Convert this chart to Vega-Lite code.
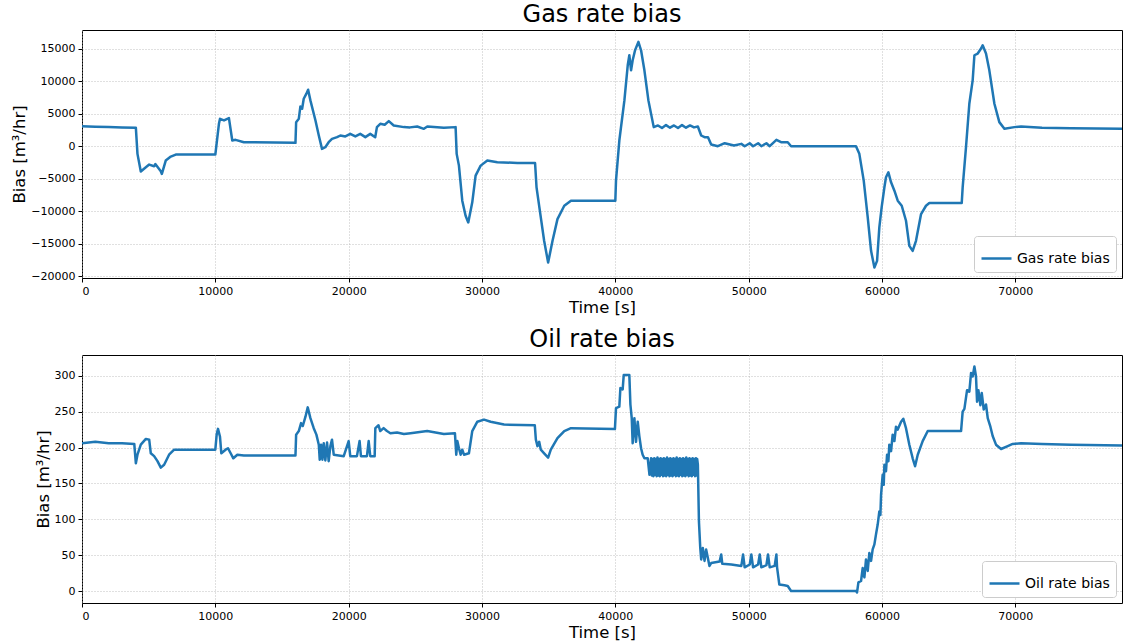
{
  "$schema": "https://vega.github.io/schema/vega-lite/v6.json",
  "padding": {"left": 11, "top": 2, "right": 0, "bottom": 0},
  "config": {
    "font": "DejaVu Sans",
    "view": {"stroke": "black", "strokeWidth": 1},
    "axis": {"domain": false, "grid": true, "gridColor": "#b0b0b0", "gridDash": [1, 2], "gridWidth": 0.8, "tickColor": "black", "tickSize": 4, "labelFontSize": 11, "labelColor": "black", "labelPadding": 3, "titleFontSize": 16.5, "titleFontWeight": "normal", "titleColor": "black", "titlePadding": 3},
    "title": {"fontSize": 24, "fontWeight": "normal", "color": "black", "offset": 3},
    "legend": {"orient": "bottom-right", "offset": 6, "fillColor": "white", "strokeColor": "#cccccc", "cornerRadius": 3, "padding": 6, "labelFontSize": 14, "labelColor": "black", "labelFont": "DejaVu Sans", "symbolType": "stroke", "symbolSize": 900, "symbolStrokeWidth": 2.5, "title": null}
  },
  "datasets": {
    "gas": [
      {"t":0,"v":3090},{"t":1000,"v":3000},{"t":2000,"v":2950},{"t":3000,"v":2900},{"t":4040,"v":2830},{"t":4160,"v":-1180},{"t":4410,"v":-3900},{"t":4790,"v":-3240},{"t":5040,"v":-2830},{"t":5410,"v":-3090},{"t":5500,"v":-2750},{"t":5910,"v":-3860},{"t":5990,"v":-4270},{"t":6280,"v":-2210},{"t":6660,"v":-1600},{"t":7030,"v":-1290},{"t":10000,"v":-1290},{"t":10270,"v":3450},{"t":10350,"v":4220},{"t":10650,"v":3970},{"t":11020,"v":4330},{"t":11270,"v":875},{"t":11520,"v":980},{"t":12140,"v":620},{"t":16010,"v":515},{"t":16060,"v":3700},{"t":16260,"v":4220},{"t":16380,"v":6130},{"t":16510,"v":5770},{"t":16630,"v":7310},{"t":16830,"v":8090},{"t":16960,"v":8700},{"t":17130,"v":7060},{"t":17510,"v":3970},{"t":17760,"v":1650},{"t":18000,"v":-410},{"t":18250,"v":-150},{"t":18500,"v":620},{"t":18750,"v":1130},{"t":19130,"v":1390},{"t":19380,"v":1650},{"t":19750,"v":1500},{"t":20120,"v":1900},{"t":20500,"v":1500},{"t":20870,"v":1900},{"t":21250,"v":1400},{"t":21620,"v":1900},{"t":21990,"v":1390},{"t":22120,"v":2940},{"t":22370,"v":3450},{"t":22700,"v":3300},{"t":23010,"v":3860},{"t":23380,"v":3190},{"t":24140,"v":2940},{"t":24600,"v":2900},{"t":25140,"v":3040},{"t":25640,"v":2680},{"t":25900,"v":3040},{"t":27140,"v":2830},{"t":28020,"v":2940},{"t":28100,"v":-1180},{"t":28270,"v":-2990},{"t":28520,"v":-8390},{"t":28770,"v":-10710},{"t":28970,"v":-11740},{"t":29270,"v":-8650},{"t":29520,"v":-4530},{"t":29900,"v":-2990},{"t":30400,"v":-2210},{"t":31150,"v":-2470},{"t":32660,"v":-2580},{"t":33980,"v":-2580},{"t":34090,"v":-6330},{"t":34410,"v":-10970},{"t":34660,"v":-14570},{"t":34960,"v":-17920},{"t":35290,"v":-14570},{"t":35660,"v":-11230},{"t":36170,"v":-9170},{"t":36670,"v":-8390},{"t":40000,"v":-8390},{"t":40050,"v":-5300},{"t":40300,"v":875},{"t":40680,"v":7060},{"t":40930,"v":12460},{"t":41050,"v":14010},{"t":41180,"v":11690},{"t":41300,"v":13240},{"t":41480,"v":14780},{"t":41730,"v":16070},{"t":41930,"v":14780},{"t":42180,"v":11690},{"t":42480,"v":7060},{"t":42880,"v":2940},{"t":43200,"v":3200},{"t":43500,"v":2800},{"t":43800,"v":3250},{"t":44100,"v":2850},{"t":44400,"v":3200},{"t":44700,"v":2800},{"t":45000,"v":3250},{"t":45300,"v":2850},{"t":45600,"v":3200},{"t":45900,"v":2900},{"t":46190,"v":3040},{"t":46440,"v":1650},{"t":46690,"v":1390},{"t":46950,"v":1390},{"t":47190,"v":260},{"t":47690,"v":0},{"t":48200,"v":460},{"t":48900,"v":100},{"t":49450,"v":360},{"t":49700,"v":0},{"t":50080,"v":460},{"t":50330,"v":0},{"t":50710,"v":460},{"t":50950,"v":0},{"t":51330,"v":460},{"t":51580,"v":0},{"t":52080,"v":980},{"t":52430,"v":620},{"t":52930,"v":620},{"t":53180,"v":0},{"t":58050,"v":0},{"t":58300,"v":-1180},{"t":58630,"v":-5300},{"t":58930,"v":-10970},{"t":59180,"v":-16120},{"t":59430,"v":-18690},{"t":59630,"v":-17660},{"t":59800,"v":-12510},{"t":59980,"v":-9320},{"t":60180,"v":-6330},{"t":60300,"v":-4790},{"t":60480,"v":-4020},{"t":60680,"v":-5560},{"t":60930,"v":-6850},{"t":61180,"v":-8390},{"t":61480,"v":-9170},{"t":61800,"v":-11480},{"t":62050,"v":-15350},{"t":62300,"v":-16120},{"t":62550,"v":-14570},{"t":62930,"v":-10450},{"t":63300,"v":-9170},{"t":63550,"v":-8750},{"t":65980,"v":-8750},{"t":66050,"v":-6330},{"t":66300,"v":-150},{"t":66550,"v":6540},{"t":66800,"v":10150},{"t":66930,"v":14010},{"t":67180,"v":14270},{"t":67430,"v":15040},{"t":67550,"v":15550},{"t":67800,"v":14270},{"t":68050,"v":11690},{"t":68430,"v":6540},{"t":68800,"v":3710},{"t":69180,"v":2680},{"t":69930,"v":2940},{"t":70430,"v":3040},{"t":72000,"v":2850},{"t":74180,"v":2780},{"t":78000,"v":2680}
    ],
    "oil": [
      {"t":0,"v":206},{"t":1000,"v":208},{"t":2000,"v":206},{"t":3000,"v":206},{"t":3920,"v":205},{"t":4040,"v":178},{"t":4160,"v":190},{"t":4410,"v":204},{"t":4790,"v":212},{"t":5040,"v":211},{"t":5160,"v":192},{"t":5410,"v":188},{"t":5660,"v":181},{"t":5910,"v":172},{"t":6160,"v":176},{"t":6530,"v":190},{"t":6910,"v":197},{"t":10000,"v":197},{"t":10100,"v":218},{"t":10200,"v":226},{"t":10350,"v":215},{"t":10450,"v":192},{"t":10770,"v":197},{"t":10950,"v":199},{"t":11150,"v":192},{"t":11350,"v":185},{"t":11650,"v":190},{"t":12140,"v":189},{"t":16010,"v":189},{"t":16060,"v":218},{"t":16260,"v":223},{"t":16430,"v":234},{"t":16560,"v":230},{"t":16760,"v":243},{"t":16930,"v":256},{"t":17130,"v":241},{"t":17380,"v":227},{"t":17580,"v":218},{"t":17760,"v":204},{"t":17830,"v":183},{"t":17930,"v":204},{"t":18030,"v":183},{"t":18130,"v":206},{"t":18250,"v":182},{"t":18380,"v":207},{"t":18500,"v":181},{"t":18630,"v":202},{"t":18750,"v":211},{"t":18880,"v":190},{"t":19630,"v":188},{"t":20000,"v":209},{"t":20120,"v":188},{"t":20620,"v":188},{"t":20820,"v":209},{"t":20920,"v":188},{"t":21370,"v":188},{"t":21500,"v":209},{"t":21620,"v":188},{"t":21950,"v":188},{"t":22000,"v":227},{"t":22240,"v":231},{"t":22370,"v":223},{"t":22620,"v":227},{"t":22870,"v":223},{"t":23130,"v":220},{"t":23630,"v":221},{"t":24140,"v":219},{"t":24640,"v":220},{"t":25890,"v":223},{"t":27140,"v":219},{"t":27970,"v":220},{"t":28070,"v":190},{"t":28150,"v":209},{"t":28270,"v":199},{"t":28400,"v":190},{"t":28520,"v":197},{"t":28650,"v":190},{"t":29020,"v":192},{"t":29270,"v":223},{"t":29650,"v":236},{"t":30150,"v":239},{"t":30650,"v":236},{"t":31650,"v":232},{"t":33960,"v":231},{"t":34040,"v":211},{"t":34160,"v":202},{"t":34290,"v":208},{"t":34410,"v":197},{"t":34660,"v":192},{"t":34960,"v":186},{"t":35160,"v":197},{"t":35660,"v":213},{"t":36170,"v":223},{"t":36670,"v":227},{"t":39970,"v":226},{"t":40050,"v":255},{"t":40300,"v":257},{"t":40380,"v":283},{"t":40550,"v":281},{"t":40630,"v":301},{"t":41050,"v":301},{"t":41130,"v":260},{"t":41230,"v":241},{"t":41300,"v":206},{"t":41430,"v":241},{"t":41550,"v":208},{"t":41680,"v":236},{"t":41800,"v":216},{"t":41930,"v":199},{"t":42050,"v":190},{"t":42180,"v":185},{"t":42430,"v":185},{"t":42560,"v":162},{"t":42680,"v":185},
      {"t":42740,"v":161},{"t":42800,"v":184},{"t":42860,"v":160},{"t":42920,"v":185},{"t":42980,"v":162},{"t":43040,"v":184},{"t":43100,"v":160},{"t":43160,"v":186},{"t":43220,"v":161},{"t":43280,"v":184},{"t":43340,"v":160},{"t":43400,"v":185},{"t":43460,"v":162},{"t":43520,"v":184},{"t":43580,"v":160},{"t":43640,"v":185},{"t":43700,"v":161},{"t":43760,"v":184},{"t":43820,"v":160},{"t":43880,"v":186},{"t":43940,"v":162},{"t":44000,"v":184},{"t":44060,"v":160},{"t":44120,"v":185},{"t":44180,"v":161},{"t":44240,"v":184},{"t":44300,"v":160},{"t":44360,"v":185},{"t":44420,"v":162},{"t":44480,"v":184},{"t":44540,"v":160},{"t":44600,"v":186},{"t":44660,"v":161},{"t":44720,"v":184},{"t":44780,"v":160},{"t":44840,"v":185},{"t":44900,"v":162},{"t":44960,"v":184},{"t":45020,"v":160},{"t":45080,"v":185},{"t":45140,"v":161},{"t":45200,"v":184},{"t":45260,"v":160},{"t":45320,"v":186},{"t":45380,"v":162},{"t":45440,"v":184},{"t":45500,"v":160},{"t":45560,"v":185},{"t":45620,"v":161},{"t":45680,"v":184},{"t":45740,"v":160},{"t":45800,"v":185},{"t":45860,"v":162},{"t":45920,"v":184},{"t":45980,"v":160},{"t":46040,"v":185},{"t":46100,"v":161},{"t":46140,"v":184},
      {"t":46190,"v":176},{"t":46270,"v":97},{"t":46370,"v":60},{"t":46440,"v":44},{"t":46560,"v":60},{"t":46690,"v":42},{"t":46810,"v":58},{"t":46940,"v":46},{"t":47060,"v":35},{"t":47190,"v":39},{"t":47820,"v":41},{"t":47940,"v":51},{"t":48020,"v":38},{"t":48700,"v":37},{"t":49450,"v":35},{"t":49580,"v":51},{"t":49700,"v":33},{"t":50080,"v":37},{"t":50200,"v":51},{"t":50330,"v":33},{"t":50710,"v":37},{"t":50830,"v":51},{"t":50950,"v":33},{"t":51330,"v":36},{"t":51450,"v":51},{"t":51580,"v":33},{"t":51950,"v":35},{"t":52080,"v":51},{"t":52130,"v":33},{"t":52300,"v":9},{"t":52680,"v":8},{"t":52930,"v":7},{"t":53180,"v":0},{"t":58050,"v":0},{"t":58130,"v":-2},{"t":58230,"v":12},{"t":58430,"v":14},{"t":58550,"v":32},{"t":58680,"v":19},{"t":58800,"v":44},{"t":58930,"v":28},{"t":59050,"v":53},{"t":59180,"v":42},{"t":59300,"v":58},{"t":59430,"v":65},{"t":59550,"v":79},{"t":59680,"v":93},{"t":59800,"v":111},{"t":59880,"v":106},{"t":59930,"v":134},{"t":60050,"v":162},{"t":60130,"v":148},{"t":60180,"v":176},{"t":60300,"v":167},{"t":60380,"v":190},{"t":60480,"v":181},{"t":60550,"v":204},{"t":60680,"v":195},{"t":60800,"v":218},{"t":60930,"v":209},{"t":61050,"v":229},{"t":61180,"v":225},{"t":61430,"v":236},{"t":61600,"v":240},{"t":61800,"v":227},{"t":62050,"v":204},{"t":62300,"v":185},{"t":62480,"v":174},{"t":62680,"v":190},{"t":63050,"v":209},{"t":63430,"v":223},{"t":65930,"v":223},{"t":66050,"v":250},{"t":66180,"v":254},{"t":66380,"v":280},{"t":66550,"v":278},{"t":66680,"v":304},{"t":66800,"v":299},{"t":66930,"v":313},{"t":67050,"v":299},{"t":67130,"v":264},{"t":67230,"v":280},{"t":67380,"v":259},{"t":67480,"v":276},{"t":67630,"v":253},{"t":67800,"v":260},{"t":67930,"v":241},{"t":68130,"v":229},{"t":68300,"v":216},{"t":68550,"v":204},{"t":68930,"v":198},{"t":69430,"v":202},{"t":69800,"v":205},{"t":70430,"v":206},{"t":72000,"v":205},{"t":74180,"v":204},{"t":78000,"v":203}
    ]
  },
  "spacing": 11,
  "resolve": {"scale": {"color": "independent"}, "legend": {"color": "independent"}},
  "vconcat": [
    {
      "title": "Gas rate bias",
      "width": 1040,
      "height": 248,
      "data": {"name": "gas"},
      "mark": {"type": "line", "strokeWidth": 2.5, "clip": true, "strokeJoin": "round"},
      "encoding": {
        "x": {"field": "t", "type": "quantitative", "scale": {"domain": [0, 78000], "nice": false, "zero": false}, "axis": {"values": [0, 10000, 20000, 30000, 40000, 50000, 60000, 70000], "format": "d", "title": "Time [s]"}},
        "y": {"field": "v", "type": "quantitative", "scale": {"domain": [-20300, 17900], "nice": false, "zero": false}, "axis": {"values": [-20000, -15000, -10000, -5000, 0, 5000, 10000, 15000], "format": "d", "title": "Bias [m³/hr]"}},
        "color": {"datum": "Gas rate bias", "type": "nominal", "scale": {"range": ["#1f77b4"]}}
      }
    },
    {
      "title": "Oil rate bias",
      "width": 1040,
      "height": 248,
      "data": {"name": "oil"},
      "mark": {"type": "line", "strokeWidth": 2.5, "clip": true, "strokeJoin": "round"},
      "encoding": {
        "x": {"field": "t", "type": "quantitative", "scale": {"domain": [0, 78000], "nice": false, "zero": false}, "axis": {"values": [0, 10000, 20000, 30000, 40000, 50000, 60000, 70000], "format": "d", "title": "Time [s]"}},
        "y": {"field": "v", "type": "quantitative", "scale": {"domain": [-16.7, 329], "nice": false, "zero": false}, "axis": {"values": [0, 50, 100, 150, 200, 250, 300], "format": "d", "title": "Bias [m³/hr]"}},
        "color": {"datum": "Oil rate bias", "type": "nominal", "scale": {"range": ["#1f77b4"]}}
      }
    }
  ]
}
